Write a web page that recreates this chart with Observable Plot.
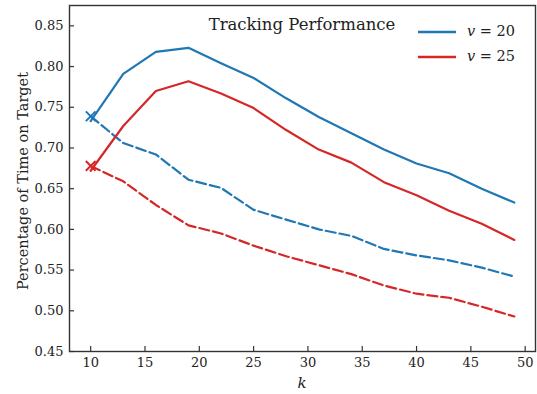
<!DOCTYPE html>
<html>
<head>
<meta charset="utf-8">
<script src="https://cdn.jsdelivr.net/npm/d3@7"></script>
<script src="https://cdn.jsdelivr.net/npm/@observablehq/plot@0.6"></script>
<style>
  html, body { margin: 0; padding: 0; background: #fff; }
  #wrap { position: relative; width: 537px; height: 394px; font-family: "DejaVu Serif"; color: #222; }
  .ov { position: absolute; white-space: nowrap; line-height: 1; }
</style>
</head>
<body>
<div id="wrap"></div>
<script>
// ---- data ----
const kValues = [10, 13, 16, 19, 22, 25, 28, 31, 34, 37, 40, 43, 46, 49];
const v20 = [0.733, 0.791, 0.818, 0.823, 0.804, 0.786, 0.761, 0.738, 0.718, 0.698, 0.681, 0.669, 0.650, 0.633];
const v25 = [0.672, 0.727, 0.770, 0.782, 0.767, 0.749, 0.722, 0.698, 0.682, 0.658, 0.642, 0.623, 0.607, 0.587];
const v20Dashed = [0.739, 0.706, 0.692, 0.661, 0.651, 0.624, 0.612, 0.600, 0.592, 0.576, 0.568, 0.562, 0.553, 0.542];
const v25Dashed = [0.678, 0.659, 0.630, 0.605, 0.595, 0.580, 0.567, 0.556, 0.545, 0.531, 0.521, 0.516, 0.505, 0.493];
const xTicks = [10, 15, 20, 25, 30, 35, 40, 45, 50];
const yTicks = [0.45, 0.50, 0.55, 0.60, 0.65, 0.70, 0.75, 0.80, 0.85];
const seriesNames = ["v = 20", "v = 25"];
const colors = ["#1f77b4", "#d62728"];
const title = "Tracking Performance";
const xLabel = "k";
const yLabel = "Percentage of Time on Target";

// ---- tables ----
const solid = [];
const dashed = [];
kValues.forEach((k, i) => {
  solid.push({k, value: v20[i], series: seriesNames[0]});
  solid.push({k, value: v25[i], series: seriesNames[1]});
  dashed.push({k, value: v20Dashed[i], series: seriesNames[0]});
  dashed.push({k, value: v25Dashed[i], series: seriesNames[1]});
});
const firstDashed = dashed.filter(d => d.k === kValues[0]);

const color = {domain: seriesNames, range: colors};
const font = "DejaVu Serif";

const chart = Plot.plot({
  width: 537,
  height: 394,
  marginLeft: 69,
  marginRight: 2,
  marginTop: 5,
  marginBottom: 43,
  style: {fontFamily: font, fontSize: "13px", color: "#222", background: "#fff"},
  x: {domain: [8.05, 50.95], ticks: xTicks, tickFormat: d => String(d), label: null},
  y: {domain: [0.45, 0.875], ticks: yTicks, tickFormat: d3.format(".2f"), label: null},
  color,
  marks: [
    Plot.axisX({ticks: xTicks, tickSize: 0, tickPadding: 6, tickFormat: d => String(d), label: null, fontSize: 13}),
    Plot.axisX({ticks: xTicks, tickSize: -5, text: null, label: null, stroke: "#333", strokeWidth: 1.2}),
    Plot.axisY({ticks: yTicks, tickSize: 0, tickPadding: 6, tickFormat: d3.format(".2f"), label: null, fontSize: 13}),
    Plot.axisY({ticks: yTicks, tickSize: -5, text: null, label: null, stroke: "#333", strokeWidth: 1.2}),
    Plot.line(dashed, {x: "k", y: "value", z: "series", stroke: "series", strokeWidth: 2.2, strokeDasharray: "10,4"}),
    Plot.line(solid, {x: "k", y: "value", z: "series", stroke: "series", strokeWidth: 2.2}),
    Plot.dot(firstDashed, {x: "k", y: "value", stroke: "series", symbol: "times", r: 4.5, strokeWidth: 2}),
    Plot.frame({stroke: "#333", strokeWidth: 1.4})
  ]
});

const wrap = document.getElementById("wrap");
wrap.appendChild(chart);

function ov(html, style) {
  const d = document.createElement("div");
  d.className = "ov";
  d.innerHTML = html;
  Object.assign(d.style, style);
  wrap.appendChild(d);
  return d;
}

// title
ov(title, {left: "302px", top: "17px", fontSize: "16.5px", transform: "translateX(-50%)"});
// axis labels
ov(`<i>${xLabel}</i>`, {left: "302px", top: "376px", fontSize: "15px", transform: "translateX(-50%)"});
ov(yLabel, {left: "23px", top: "181px", fontSize: "14.5px", transform: "translate(-50%,-50%) rotate(-90deg)"});

// legend
seriesNames.forEach((name, i) => {
  const y = 32 + i * 24.5;
  const svg = `<svg width="38" height="6" style="display:block"><line x1="0" x2="38" y1="3" y2="3" stroke="${colors[i]}" stroke-width="2.4"/></svg>`;
  ov(svg, {left: "418px", top: (y - 3) + "px"});
  const parts = name.split(" = ");
  ov(`<i>${parts[0]}</i> = ${parts[1]}`, {left: "467px", top: (y - 8) + "px", fontSize: "14.5px"});
});
</script>
</body>
</html>
